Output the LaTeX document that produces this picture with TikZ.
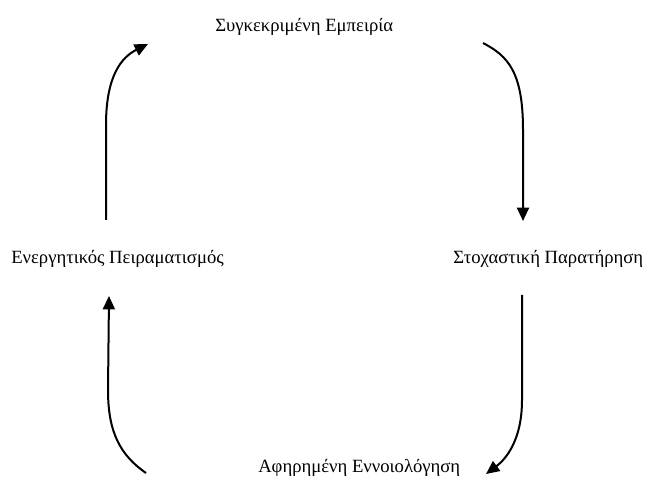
\documentclass[tikz,border=0pt]{standalone}
\usepackage{fontspec}
\setmainfont{Liberation Serif}
\usetikzlibrary{arrows.meta}
\begin{document}
\begin{tikzpicture}[x=0.75pt,y=-0.75pt,
  lbl/.style={font=\fontsize{14}{16}\selectfont,inner sep=0pt},
  cyc/.style={line width=1.5pt,-{Triangle[width=9pt,length=10pt]}}]
\useasboundingbox (0,0) rectangle (653,477);
\node[lbl,anchor=west] (top) at (215,27) {Συγκεκριμένη Εμπειρία};
\node[lbl,anchor=west] (left) at (11,259) {Ενεργητικός Πειραματισμός};
\node[lbl,anchor=west] (right) at (453,259) {Στοχαστική Παρατήρηση};
\node[lbl,anchor=west] (bottom) at (258,468) {Αφηρημένη Εννοιολόγηση};
\coordinate (a1s) at (106,220); \coordinate (a1e) at (148,44);
\coordinate (a2s) at (483,43);  \coordinate (a2e) at (523,221);
\coordinate (a3s) at (522,295); \coordinate (a3e) at (486,474);
\coordinate (a4s) at (146,473); \coordinate (a4e) at (109,296);
\draw[cyc] (a1s) -- (106,125) .. controls (106,75) and (122,57) .. (a1e);
\draw[cyc] (a2s) .. controls (508,56) and (523,72) .. (523,130) -- (a2e);
\draw[cyc] (a3s) -- (522,400) .. controls (522,440) and (506,459) .. (a3e);
\draw[cyc] (a4s) .. controls (120,455) and (108,432) .. (108,390) -- (a4e);
\end{tikzpicture}
\end{document}
